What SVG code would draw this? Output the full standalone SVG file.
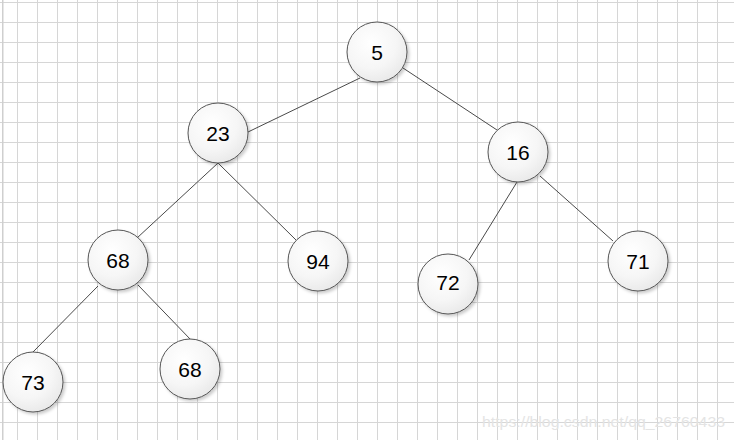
<svg xmlns="http://www.w3.org/2000/svg" width="734" height="440" viewBox="0 0 734 440">
  <defs>
    <pattern id="grid" patternUnits="userSpaceOnUse" x="17" y="2" width="20" height="20">
      <path d="M0.5 0 V20 M0 0.5 H20" stroke="#d6d6d6" stroke-width="1" fill="none"/>
    </pattern>
    <radialGradient id="nodeFill" cx="40%" cy="35%" r="70%">
      <stop offset="0" stop-color="#ffffff"/>
      <stop offset="0.6" stop-color="#f6f6f6"/>
      <stop offset="1" stop-color="#e8e8e8"/>
    </radialGradient>
    <filter id="shadow" x="-20%" y="-20%" width="150%" height="150%">
      <feDropShadow dx="2" dy="2" stdDeviation="1.5" flood-color="#000" flood-opacity="0.2"/>
    </filter>
  </defs>
  <style>
    .node circle { fill: url(#nodeFill); stroke: #555555; stroke-width: 1; filter: url(#shadow); }
    .node text { font-family: "Liberation Sans", Arial, sans-serif; font-size: 21px; fill: #000; text-anchor: middle; }
    .edges line { stroke: #4a4a4a; stroke-width: 1; }
    .wm { font-family: "Liberation Sans", Arial, sans-serif; font-size: 15px; fill: #e4e4e4; }
  </style>
  <rect width="734" height="440" fill="#ffffff"/>
  <rect width="734" height="440" fill="url(#grid)"/>
  <rect x="2" y="0" width="1.5" height="440" fill="#cfcfcf"/>

  <g class="edges" id="edges">
    <line x1="360" y1="78" x2="248" y2="132"/>
    <line x1="403" y1="68" x2="497" y2="130"/>
    <line x1="218" y1="163" x2="137" y2="238"/>
    <line x1="218" y1="163" x2="296" y2="240"/>
    <line x1="517" y1="182" x2="469" y2="260"/>
    <line x1="540" y1="176" x2="613" y2="241"/>
    <line x1="98" y1="286" x2="33" y2="352"/>
    <line x1="138" y1="285" x2="191" y2="340"/>
  </g>

  <g class="node" id="n5"><circle cx="377" cy="52" r="30"/><text x="377" y="59.5">5</text></g>
  <g class="node" id="n23"><circle cx="218" cy="133" r="30"/><text x="218" y="140.5">23</text></g>
  <g class="node" id="n16"><circle cx="518" cy="152" r="30"/><text x="518" y="159.5">16</text></g>
  <g class="node" id="n68a"><circle cx="118" cy="260" r="30"/><text x="118" y="267.5">68</text></g>
  <g class="node" id="n94"><circle cx="318" cy="261" r="30"/><text x="318" y="268.5">94</text></g>
  <g class="node" id="n72"><circle cx="448" cy="284" r="30"/><text x="448" y="289.5">72</text></g>
  <g class="node" id="n71"><circle cx="638" cy="261" r="30"/><text x="638" y="268.5">71</text></g>
  <g class="node" id="n73"><circle cx="33" cy="382" r="30"/><text x="33" y="389.5">73</text></g>
  <g class="node" id="n68b"><circle cx="190" cy="369" r="30"/><text x="190" y="376.5">68</text></g>

  <text class="wm" x="482" y="427" textLength="243" lengthAdjust="spacingAndGlyphs">https://blog.csdn.net/qq_26760433</text>
</svg>
